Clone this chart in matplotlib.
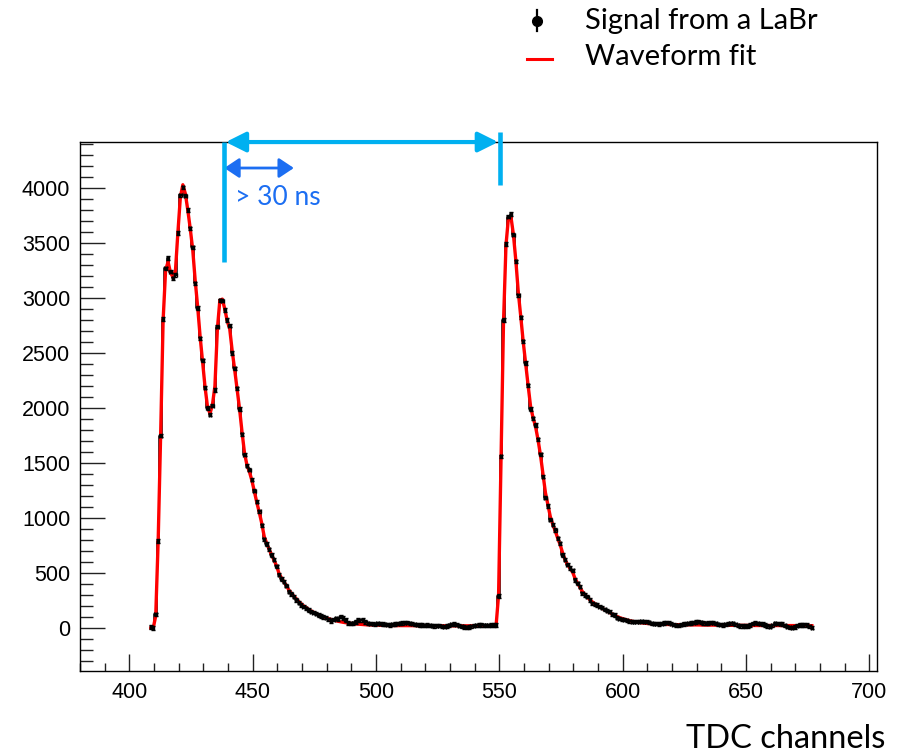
import numpy as np
import matplotlib
matplotlib.use("Agg")
import matplotlib.pyplot as plt
from matplotlib.ticker import MultipleLocator

plt.rcParams['font.family'] = ['Liberation Sans', 'DejaVu Sans']

# one value per TDC channel, starting at first_channel
first_channel = 408

signal = [
    10, 0, 125, 790, 1750, 2810, 3270, 3365, 3240, 3180,
    3210, 3590, 3935, 4005, 3930, 3800, 3635, 3460, 3135, 2910,
    2635, 2435, 2185, 2000, 1940, 2020, 2165, 2740, 2980, 2975,
    2890, 2800, 2750, 2500, 2360, 2180, 1990, 1760, 1575, 1475,
    1440, 1350, 1250, 1150, 1060, 935, 805, 765, 715, 665,
    620, 560, 485, 445, 420, 385, 330, 310, 285, 255,
    230, 210, 195, 180, 165, 150, 140, 130, 118, 110,
    100, 95, 80, 65, 75, 88, 80, 103, 90, 72,
    45, 42, 42, 55, 73, 70, 73, 55, 42, 40,
    38, 35, 42, 40, 36, 33, 30, 28, 33, 36,
    40, 44, 46, 47, 48, 44, 40, 35, 30, 28,
    27, 26, 27, 25, 20, 18, 22, 20, 15, 12,
    18, 26, 33, 36, 30, 22, 14, 8, 6, 10,
    16, 22, 25, 27, 27, 26, 25, 26, 27, 27,
    28, 290, 1560, 2800, 3490, 3740, 3765, 3575, 3335, 3025,
    2825, 2605, 2410, 2205, 1990, 1905, 1845, 1715, 1580, 1375,
    1185, 1110, 985, 940, 890, 815, 770, 665, 620, 575,
    545, 525, 436, 405, 375, 315, 300, 285, 255, 225,
    215, 209, 195, 185, 170, 158, 148, 125, 118, 95,
    85, 78, 75, 70, 62, 58, 58, 57, 58, 60,
    58, 58, 52, 42, 40, 38, 36, 40, 45, 48,
    48, 40, 30, 26, 24, 30, 36, 40, 42, 45,
    50, 55, 58, 52, 45, 42, 45, 48, 48, 42,
    35, 30, 27, 32, 38, 42, 42, 35, 25, 18,
    18, 18, 18, 28, 38, 48, 42, 38, 36, 28,
    18, 12, 25, 42, 40, 38, 36, 25, 12, 5,
    3, 10, 20, 27, 28, 27, 27, 15, 3,
]

fit = [
    0, 0, 110, 800, 1760, 2800, 3250, 3330, 3230, 3190,
    3250, 3600, 3920, 4030, 3950, 3800, 3630, 3440, 3160, 2920,
    2650, 2420, 2190, 2010, 1950, 2030, 2200, 2720, 2980, 2990,
    2900, 2790, 2720, 2520, 2350, 2170, 1990, 1780, 1590, 1480,
    1420, 1340, 1240, 1140, 1050, 950, 830, 770, 715, 665,
    615, 565, 495, 455, 420, 385, 345, 315, 290, 265,
    240, 220, 200, 185, 170, 155, 143, 132, 120, 110,
    100, 92, 85, 78, 72, 66, 61, 56, 52, 48,
    45, 42, 39, 37, 35, 33, 31, 30, 29, 28,
    27, 26, 25, 25, 24, 24, 23, 23, 23, 22,
    22, 22, 22, 22, 22, 21, 21, 21, 21, 21,
    21, 21, 21, 21, 20, 20, 20, 20, 20, 20,
    20, 20, 20, 20, 20, 20, 20, 20, 20, 20,
    20, 20, 20, 20, 20, 20, 20, 20, 20, 20,
    25, 300, 1560, 2780, 3480, 3730, 3740, 3580, 3340, 3050,
    2830, 2600, 2400, 2200, 2010, 1910, 1830, 1710, 1570, 1400,
    1230, 1120, 1010, 940, 880, 815, 755, 680, 620, 575,
    540, 510, 450, 410, 370, 330, 305, 280, 258, 238,
    220, 205, 192, 180, 166, 153, 140, 128, 116, 105,
    95, 87, 80, 73, 67, 62, 58, 54, 50, 47,
    44, 42, 40, 38, 37, 36, 35, 34, 33, 32,
    32, 31, 31, 30, 30, 30, 29, 29, 29, 28,
    28, 28, 28, 27, 27, 27, 27, 26, 26, 26,
    26, 26, 25, 25, 25, 25, 25, 24, 24, 24,
    24, 24, 24, 23, 23, 23, 23, 23, 23, 23,
    22, 22, 22, 22, 22, 22, 22, 22, 22, 22,
    22, 22, 21, 21, 21, 21, 21, 21, 21,
]

# bin centres
channels = np.arange(first_channel, first_channel + len(signal)) + 0.7

# markers for the two pulses
pulse1_start = 438.5
pulse2_start = 550.3

cyan = '#00B0F0'
blue = '#1C6EF2'

fig = plt.figure(figsize=(9.07, 7.56), dpi=100)
ax = fig.add_axes([0.0882, 0.1124, 0.8784, 0.6997])

ax.step(channels, signal, where='mid', color='black', lw=1.1, zorder=2)
ax.plot(channels, fit, color='red', lw=2.4, zorder=3)
ax.errorbar(channels, signal, xerr=0.5, yerr=15, fmt='none', ecolor='black',
            elinewidth=1.7, capsize=1.2, capthick=1.0, zorder=4)

ax.set_xlim(380, 703)
ax.set_ylim(-391, 4418)
ax.xaxis.set_major_locator(MultipleLocator(50))
ax.xaxis.set_minor_locator(MultipleLocator(10))
ax.yaxis.set_major_locator(MultipleLocator(500))
ax.yaxis.set_minor_locator(MultipleLocator(100))
ax.tick_params(which='both', direction='in', top=False, right=False,
               labelsize=15.5, width=1.0, color='#222222')
ax.xaxis.set_tick_params(which='major', length=12, pad=8)
ax.xaxis.set_tick_params(which='minor', length=6)
ax.yaxis.set_tick_params(which='major', length=18, pad=7)
ax.yaxis.set_tick_params(which='minor', length=9)
for s in ax.spines.values():
    s.set_linewidth(1.0)

# annotations
ax.plot([pulse1_start, pulse1_start], [3327, 4418], color=cyan, lw=3.3,
        solid_capstyle='butt', clip_on=False, zorder=6)
ax.plot([pulse2_start, pulse2_start], [4027, 4509], color=cyan, lw=3.3,
        solid_capstyle='butt', clip_on=False, zorder=6)
ax.annotate('', xy=(pulse2_start - 0.8, 4418), xytext=(pulse1_start + 0.6, 4418),
            arrowprops=dict(arrowstyle='<|-|>,head_length=0.6,head_width=0.3',
                            color=cyan, lw=3.0, shrinkA=0, shrinkB=0,
                            mutation_scale=20),
            annotation_clip=False, zorder=6)
ax.annotate('', xy=(466.7, 4182), xytext=(pulse1_start, 4182),
            arrowprops=dict(arrowstyle='<|-|>,head_length=0.45,head_width=0.3',
                            color=blue, lw=2.0, shrinkA=0, shrinkB=0,
                            mutation_scale=20),
            annotation_clip=False, zorder=5)
ax.text(443.0, 3918, '> 30 ns', color=blue, fontsize=19, family='Lato',
        ha='left', va='center')

# legend and axis title in pixel coordinates
ov = fig.add_axes([0, 0, 1, 1], facecolor='none')
ov.set_xlim(0, 907)
ov.set_ylim(756, 0)
ov.axis('off')
ov.plot([537, 537], [10, 31], color='black', lw=1.6)
ov.plot([537], [20.5], 'o', color='black', ms=7)
ov.plot([527, 552], [59, 59], color='red', lw=2.2)
ov.text(585, 21, 'Signal from a LaBr', fontsize=21, family='Lato',
        ha='left', va='center')
ov.text(585, 57, 'Waveform fit', fontsize=21, family='Lato',
        ha='left', va='center')
ov.text(885, 748, 'TDC channels', fontsize=23.5, family='Lato',
        ha='right', va='baseline')

fig.savefig('out.png', dpi=100)
